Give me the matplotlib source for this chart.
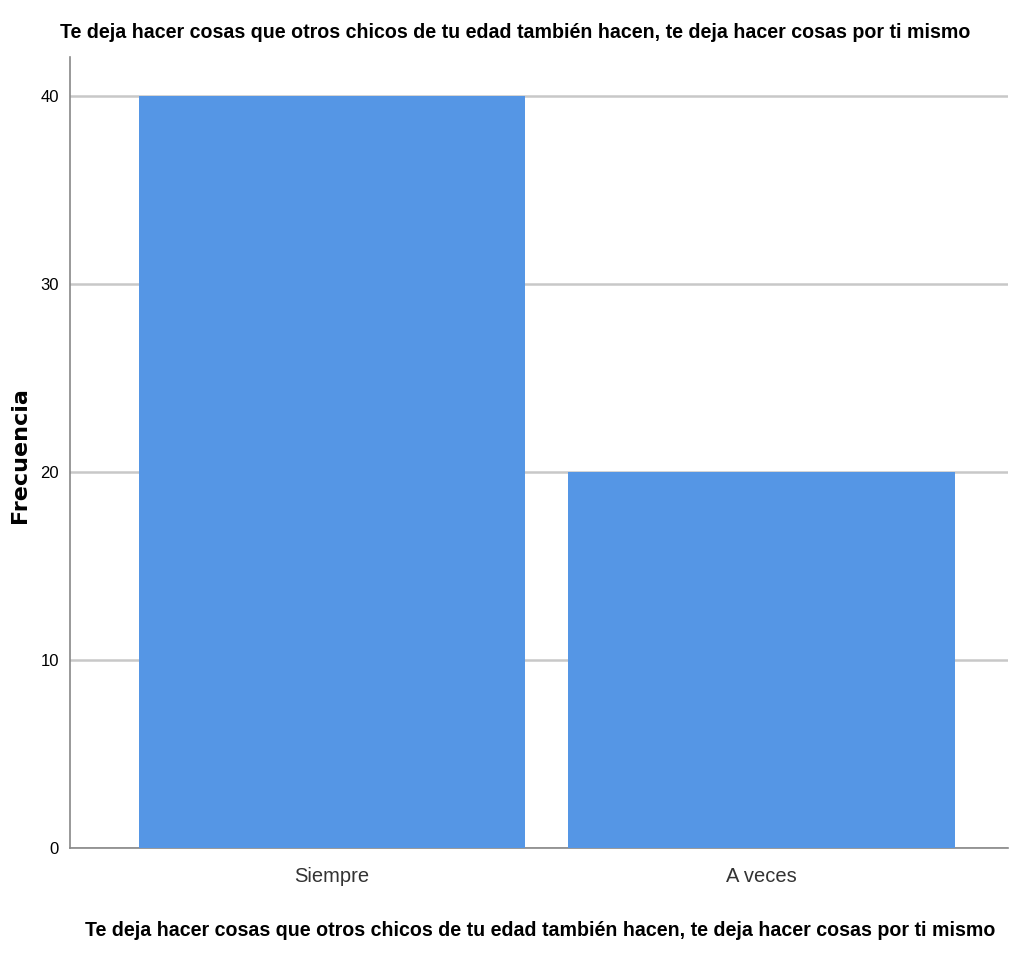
import matplotlib
matplotlib.use("Agg")
import matplotlib.pyplot as plt

categories = ["Siempre", "A veces"]
values = [40, 20]
yticks = [0, 10, 20, 30, 40]
title = "Te deja hacer cosas que otros chicos de tu edad también hacen, te deja hacer cosas por ti mismo"

font = "Liberation Sans"

fig = plt.figure(figsize=(10.09, 9.58), dpi=100)
W, H = 1009, 958
ax = fig.add_axes([70 / W, 1 - 848 / H, (1008 - 70) / W, (848 - 57) / H])

x = list(range(len(categories)))
ax.bar(x, values, width=0.9, color="#5596E5", zorder=3)
ax.set_xlim(-0.61, 1.573)
ax.set_ylim(0, 42.07)
ax.set_yticks(yticks)
ax.set_yticklabels([str(t) for t in yticks], family=font, fontsize=12)
ax.set_xticks(x)
ax.set_xticklabels(categories, family=font, fontsize=14.5, color="#333333")
ax.tick_params(axis="both", length=0)
ax.tick_params(axis="y", pad=8)
ax.tick_params(axis="x", pad=14)
ax.yaxis.grid(True, color="#c8c8c8", linewidth=1.8, zorder=0)
ax.set_axisbelow(True)
for s in ["top", "right"]:
    ax.spines[s].set_visible(False)
for s in ["left", "bottom"]:
    ax.spines[s].set_color("#888888")
    ax.spines[s].set_linewidth(1.2)

fig.text(515 / W, 1 - 32 / H, title, ha="center", va="center",
         family=font, fontweight="bold", fontsize=14.1)
fig.text(540 / W, 1 - 930 / H, title, ha="center", va="center",
         family=font, fontweight="bold", fontsize=14.1)
fig.text(20 / W, 1 - 455 / H, "Frecuencia", ha="center", va="center",
         rotation=90, family="DejaVu Sans", fontweight="bold", fontsize=16)

fig.savefig("out.png", dpi=100)
